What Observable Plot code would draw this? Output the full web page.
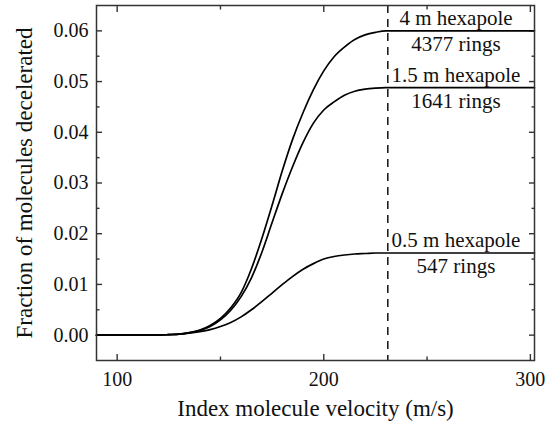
<!DOCTYPE html>
<html>
<head>
<meta charset="utf-8">
<script src="https://cdn.jsdelivr.net/npm/d3@7"></script>
<script src="https://cdn.jsdelivr.net/npm/@observablehq/plot@0.6"></script>
<style>
  html, body { margin: 0; padding: 0; background: #fff; }
  #chart { width: 559px; height: 424px; }
</style>
</head>
<body>
<div id="chart"></div>
<script>
// Index molecule velocity (m/s)
const velocity = [90, 100, 110, 120, 125, 130, 135, 140, 145, 150, 155, 160, 165, 170, 175,
                  180, 185, 190, 195, 200, 205, 210, 215, 220, 225, 230, 302];

// Fraction of molecules decelerated, one list per hexapole length
const frac4m = [0, 0, 0, 0.00002, 0.0001, 0.0002, 0.0005, 0.0010, 0.0019, 0.0033, 0.0054, 0.0084, 0.0131, 0.0190, 0.0256,
                0.0325, 0.0387, 0.0439, 0.0484, 0.0521, 0.0549, 0.0568, 0.0583, 0.0592, 0.0597, 0.0600, 0.0600];
const frac1p5m = [0, 0, 0, 0.00002, 0.0001, 0.0002, 0.0005, 0.0009, 0.0017, 0.0030, 0.0049, 0.0076, 0.0113, 0.0163, 0.0222,
                  0.0280, 0.0333, 0.0380, 0.0418, 0.0444, 0.0460, 0.0473, 0.0481, 0.0485, 0.0487, 0.0488, 0.0488];
const frac0p5m = [0, 0, 0, 0.00002, 0.0001, 0.0002, 0.0004, 0.0007, 0.0011, 0.0017, 0.0025, 0.0036, 0.0050, 0.0066, 0.0083,
                  0.0100, 0.0116, 0.0130, 0.0141, 0.0150, 0.0155, 0.0158, 0.0160, 0.0161, 0.0162, 0.0162, 0.0162];

const seriesNames = ["4 m hexapole", "1.5 m hexapole", "0.5 m hexapole"];
const ringLabels = ["4377 rings", "1641 rings", "547 rings"];
const seriesValues = [frac4m, frac1p5m, frac0p5m];

// Velocity marked by the dashed line
const markerVelocity = [231];

// Axis ticks
const xMajor = [100, 200, 300];
const xMinor = [150, 250];
const yMajor = [0, 0.01, 0.02, 0.03, 0.04, 0.05, 0.06];
const yMinor = [0.005, 0.015, 0.025, 0.035, 0.045, 0.055];

// Tidy table for the line mark
const rows = seriesNames.flatMap((name, s) =>
  velocity.map((v, i) => ({series: name, v, f: seriesValues[s][i]}))
);
// One label row per curve, at its plateau
const labelRows = seriesNames.map((name, s) => ({
  name, rings: ringLabels[s], f: seriesValues[s][seriesValues[s].length - 1]
}));

const axisColor = "#333";
const tickStyle = {stroke: axisColor, strokeWidth: 1.4, tickFormat: () => "", label: null};

const chart = Plot.plot({
  width: 559,
  height: 424,
  marginLeft: 96,
  marginRight: 25,
  marginTop: 5,
  marginBottom: 64,
  style: {fontFamily: "'Liberation Serif', 'Times New Roman', serif", fontSize: "20px", background: "#fff", color: "#111"},
  x: {domain: [90, 302]},
  y: {domain: [-0.005, 0.065]},
  marks: [
    // inward ticks on all four sides
    Plot.axisX({anchor: "bottom", ticks: xMajor, tickSize: -6, ...tickStyle}),
    Plot.axisX({anchor: "bottom", ticks: xMinor, tickSize: -3.5, ...tickStyle}),
    Plot.axisX({anchor: "top", ticks: xMajor, tickSize: -6, ...tickStyle}),
    Plot.axisX({anchor: "top", ticks: xMinor, tickSize: -3.5, ...tickStyle}),
    Plot.axisY({anchor: "left", ticks: yMajor, tickSize: -6, ...tickStyle}),
    Plot.axisY({anchor: "left", ticks: yMinor, tickSize: -3.5, ...tickStyle}),
    Plot.axisY({anchor: "right", ticks: yMajor, tickSize: -6, ...tickStyle}),
    Plot.axisY({anchor: "right", ticks: yMinor, tickSize: -3.5, ...tickStyle}),
    // tick labels
    Plot.axisX({anchor: "bottom", ticks: xMajor, tickSize: 0, tickPadding: 11, fontSize: 20, label: null, fill: "#111"}),
    Plot.axisY({anchor: "left", ticks: yMajor, tickSize: 0, tickPadding: 8, fontSize: 20, label: null, fill: "#111",
                tickFormat: d3.format(".2f")}),
    // axis titles
    Plot.text(["Index molecule velocity (m/s)"], {frameAnchor: "bottom", lineAnchor: "bottom", dy: 55, fontSize: 23, fill: "#111"}),
    Plot.text(["Fraction of molecules decelerated"], {frameAnchor: "left", textAnchor: "middle", rotate: -90, dx: -72, fontSize: 23, fill: "#111"}),
    // curves
    Plot.line(rows, {x: "v", y: "f", z: "series", stroke: "#000", strokeWidth: 1.7, curve: "monotone-x"}),
    // dashed velocity marker
    Plot.ruleX(markerVelocity, {stroke: "#111", strokeWidth: 1.5, strokeDasharray: "8,6"}),
    // curve labels above and below each plateau
    Plot.text(labelRows, {x: 264, y: "f", text: "name", lineAnchor: "bottom", dy: -6, fontSize: 21, fill: "#111"}),
    Plot.text(labelRows, {x: 264, y: "f", text: "rings", lineAnchor: "top", dy: 5, fontSize: 21, fill: "#111"}),
    Plot.frame({stroke: axisColor, strokeWidth: 1.5})
  ]
});

document.getElementById("chart").append(chart);
</script>
</body>
</html>
